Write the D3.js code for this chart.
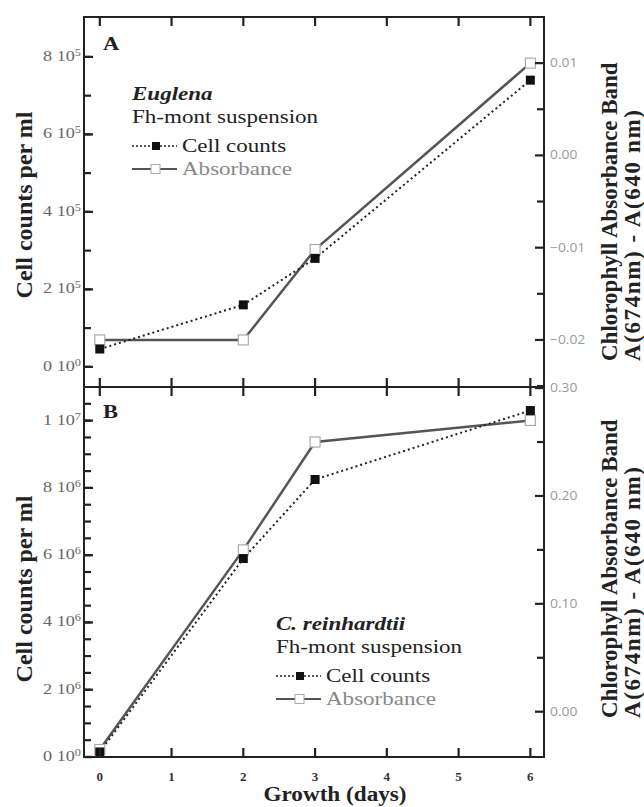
<!DOCTYPE html>
<html>
<head>
<meta charset="utf-8">
<script src="https://cdn.jsdelivr.net/npm/d3@7"></script>
<style>
  html, body { margin: 0; padding: 0; background: #fff; }
  svg { display: block; }
</style>
</head>
<body>
<script>
// ---------- data ----------
const days = [0, 2, 3, 6];
const dayTicks = [0, 1, 2, 3, 4, 5, 6];

const euglenaCells = [0.46e5, 1.6e5, 2.8e5, 7.4e5];
const euglenaAbs   = [-0.020, -0.020, -0.0102, 0.010];

const chlamyCells = [0.15e6, 5.9e6, 8.25e6, 10.3e6];
const chlamyAbs   = [-0.035, 0.150, 0.250, 0.270];

const euglenaLeftTicks  = [0, 2e5, 4e5, 6e5, 8e5];
const euglenaRightTicks = [-0.02, -0.01, 0.00, 0.01];
const chlamyLeftTicks   = [0, 2e6, 4e6, 6e6, 8e6, 1e7];
const chlamyRightTicks  = [0.00, 0.10, 0.20, 0.30];

// ---------- layout ----------
const W = 644, H = 807;
const L = 84, R = 544, T = 17, M = 387, B = 757;

const svg = d3.select("body").append("svg").attr("width", W).attr("height", H);

const x = d3.scaleLinear().domain([-0.22, 6.19]).range([L, R]);

const serif = "'Liberation Serif', 'Times New Roman', serif";
const sans = "'Open Sans', 'DejaVu Sans', sans-serif";

function sciLabel(v) {
  if (v === 0) return {m: "0", e: "0"};
  const e = Math.floor(Math.log10(v) + 1e-9);
  const m = Math.round(v / Math.pow(10, e));
  return {m: String(m), e: String(e)};
}

function stext(parent, px, py, sx, str) {
  return parent.append("text")
    .attr("transform", `translate(${px},${py}) scale(${sx},1)`)
    .text(str);
}

// inward tick marks positioned by the scales, drawn as small filled rects
function vTicks(scale, values, x0, len) {
  svg.append("g").selectAll("rect").data(values).join("rect")
    .attr("x", len >= 0 ? x0 : x0 + len).attr("width", Math.abs(len))
    .attr("y", d => scale(d) - 1.1).attr("height", 2.2)
    .attr("fill", "#222");
}
function hTicks(scale, values, y0, len) {
  svg.append("g").selectAll("rect").data(values).join("rect")
    .attr("y", len >= 0 ? y0 : y0 + len).attr("height", Math.abs(len))
    .attr("x", d => scale(d) - 1.1).attr("width", 2.2)
    .attr("fill", "#222");
}

function panel(cfg) {
  const {top, bottom, yL, yR, leftTicks, leftMinor, rightTicks, rightMinor, cells, abs} = cfg;
  const g = svg.append("g");

  vTicks(yL, leftMinor, L, 7);
  vTicks(yL, leftTicks, L, 9);
  leftTicks.forEach(v => {
    const lab = sciLabel(v);
    const t = g.append("text")
      .attr("transform", `translate(${L - 3},${yL(v) + 4}) scale(1.3,1)`)
      .attr("text-anchor", "end")
      .attr("font-family", serif).attr("font-size", 14).attr("fill", "#666");
    t.append("tspan").text(lab.m + " 10");
    t.append("tspan").attr("font-size", 9.5).attr("dy", -5).text(lab.e);
  });

  vTicks(yR, rightMinor, R, -7);
  vTicks(yR, rightTicks, R, -9);
  rightTicks.forEach(v => {
    stext(g, R + 6, yR(v) + 4, 1.15, d3.format(".2f")(v))
      .attr("font-family", sans).attr("font-size", 12).attr("fill", "#999");
  });

  hTicks(x, dayTicks, top, 9);
  hTicks(x, dayTicks, bottom, -9);

  const lineAbs = d3.line().x((d, i) => x(days[i])).y(d => yR(d));
  const lineCells = d3.line().x((d, i) => x(days[i])).y(d => yL(d));

  g.append("path").datum(abs).attr("d", lineAbs)
    .attr("fill", "none").attr("stroke", "#555").attr("stroke-width", 2.5);
  g.append("path").datum(cells).attr("d", lineCells)
    .attr("fill", "none").attr("stroke", "#222").attr("stroke-width", 2)
    .attr("stroke-dasharray", "2,3");

  g.selectAll(".openSq").data(abs).enter().append("rect")
    .attr("x", (d, i) => x(days[i]) - 5).attr("y", d => yR(d) - 5)
    .attr("width", 10).attr("height", 10)
    .attr("fill", "#fff").attr("stroke", "#aaa").attr("stroke-width", 1.2);
  g.selectAll(".fillSq").data(cells).enter().append("rect")
    .attr("x", (d, i) => x(days[i]) - 4.5).attr("y", d => yL(d) - 4.5)
    .attr("width", 9).attr("height", 9)
    .attr("fill", "#111");
  return g;
}

const yLA = d3.scaleLinear().domain([-0.52e5, 9.03e5]).range([M, T]);
const yRA = d3.scaleLinear().domain([-0.0251, 0.015]).range([M, T]);
panel({
  top: T, bottom: M, yL: yLA, yR: yRA,
  leftTicks: euglenaLeftTicks,
  leftMinor: d3.range(0, 9e5, 1e5),
  rightTicks: euglenaRightTicks,
  rightMinor: [-0.025, -0.015, -0.005, 0.005],
  cells: euglenaCells, abs: euglenaAbs
});

const yLB = d3.scaleLinear().domain([0, 1.1e7]).range([B, M]);
const yRB = d3.scaleLinear().domain([-0.042, 0.301]).range([B, M]);
panel({
  top: M, bottom: B, yL: yLB, yR: yRB,
  leftTicks: chlamyLeftTicks,
  leftMinor: d3.range(0, 1.1e7, 5e5),
  rightTicks: chlamyRightTicks,
  rightMinor: [0.05, 0.15, 0.25],
  cells: chlamyCells, abs: chlamyAbs
});

svg.append("rect").attr("x", L).attr("y", T).attr("width", R - L).attr("height", B - T)
  .attr("fill", "none").attr("stroke", "#222").attr("stroke-width", 2);
svg.append("line").attr("x1", L).attr("x2", R).attr("y1", M).attr("y2", M)
  .attr("stroke", "#222").attr("stroke-width", 2);

dayTicks.forEach(d => {
  svg.append("text").attr("x", x(d)).attr("y", 781)
    .attr("text-anchor", "middle").attr("font-family", serif)
    .attr("font-weight", "bold").attr("font-size", 13).attr("fill", "#333").text(d);
});
stext(svg, 335, 801, 1.16, "Growth (days)")
  .attr("text-anchor", "middle").attr("font-family", serif)
  .attr("font-weight", "bold").attr("font-size", 20).attr("fill", "#222");

stext(svg, 103, 50, 1.25, "A").attr("font-family", serif)
  .attr("font-weight", "bold").attr("font-size", 18).attr("fill", "#222");
stext(svg, 103, 418, 1.25, "B").attr("font-family", serif)
  .attr("font-weight", "bold").attr("font-size", 18).attr("fill", "#222");

svg.append("text").attr("transform", `translate(32,205) rotate(-90)`)
  .attr("text-anchor", "middle").attr("font-family", serif)
  .attr("font-weight", "bold").attr("font-size", 24).attr("fill", "#222").text("Cell counts per ml");
svg.append("text").attr("transform", `translate(32,589) rotate(-90)`)
  .attr("text-anchor", "middle").attr("font-family", serif)
  .attr("font-weight", "bold").attr("font-size", 24).attr("fill", "#222").text("Cell counts per ml");

function rTitle(yStart) {
  const t = svg.append("text")
    .attr("transform", `translate(617,${yStart}) rotate(-90)`)
    .attr("text-anchor", "start").attr("font-family", serif)
    .attr("font-weight", "bold").attr("font-size", 23).attr("fill", "#222");
  t.append("tspan").attr("x", 0).attr("dy", 0).text("Chlorophyll Absorbance Band");
  t.append("tspan").attr("x", 0).attr("dy", 23).attr("letter-spacing", 1.6).text("A(674nm) - A(640 nm)");
}
rTitle(361);
rTitle(718);

function legend(lx, y0, species) {
  const f = 18, sx = 1.28;
  stext(svg, lx, y0, sx, species).attr("font-family", serif)
    .attr("font-weight", "bold").attr("font-style", "italic").attr("font-size", f)
    .attr("fill", "#222");
  stext(svg, lx, y0 + 23, sx, "Fh-mont suspension").attr("font-family", serif)
    .attr("font-size", f).attr("fill", "#222");
  const yc = y0 + 46, ya = y0 + 69;
  svg.append("line").attr("x1", lx).attr("x2", lx + 45).attr("y1", yc).attr("y2", yc)
    .attr("stroke", "#222").attr("stroke-width", 1.5).attr("stroke-dasharray", "2,2");
  svg.append("rect").attr("x", lx + 20).attr("y", yc - 4).attr("width", 8).attr("height", 8).attr("fill", "#111");
  stext(svg, lx + 50, yc + 6, sx, "Cell counts").attr("font-family", serif)
    .attr("font-size", f).attr("fill", "#222");
  svg.append("line").attr("x1", lx).attr("x2", lx + 45).attr("y1", ya).attr("y2", ya)
    .attr("stroke", "#555").attr("stroke-width", 2);
  svg.append("rect").attr("x", lx + 19).attr("y", ya - 4.5).attr("width", 9).attr("height", 9)
    .attr("fill", "#fff").attr("stroke", "#aaa").attr("stroke-width", 1);
  stext(svg, lx + 50, ya + 6, sx, "Absorbance").attr("font-family", serif)
    .attr("font-size", f).attr("fill", "#888");
}
legend(132, 100, "Euglena");
legend(276, 630, "C. reinhardtii");
</script>
</body>
</html>
